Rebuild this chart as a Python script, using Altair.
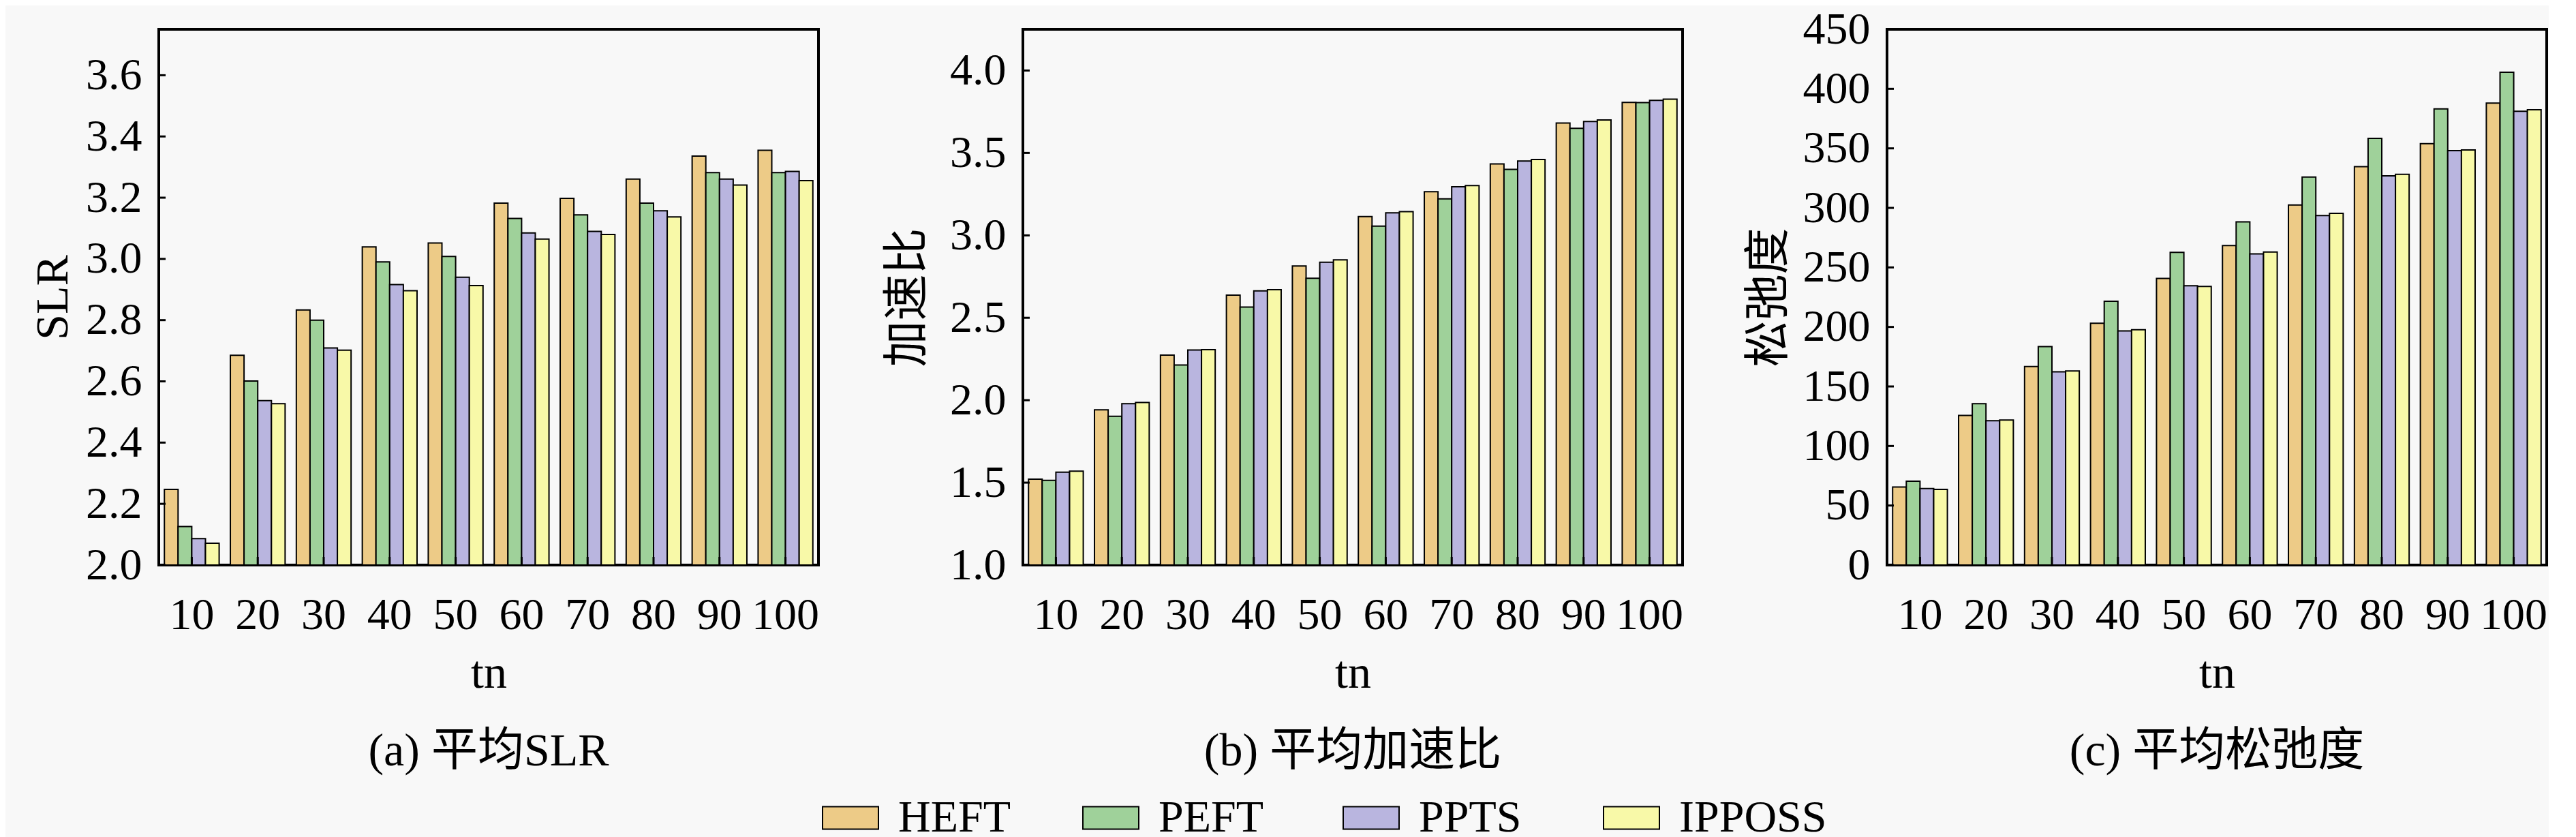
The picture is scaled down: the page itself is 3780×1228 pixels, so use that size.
import altair as alt
import pandas as pd

tn = ["10", "20", "30", "40", "50", "60", "70", "80", "90", "100"]
algorithms = ["HEFT", "PEFT", "PPTS", "IPPOSS"]
colors = ["#EDCB87", "#9FD19A", "#B9B5DF", "#F8F9A8"]

slr_heft = [2.247, 2.685, 2.833, 3.039, 3.052, 3.182, 3.198, 3.261, 3.336, 3.355]
slr_peft = [2.126, 2.601, 2.800, 2.990, 3.008, 3.132, 3.144, 3.182, 3.282, 3.282]
slr_ppts = [2.086, 2.537, 2.709, 2.916, 2.940, 3.085, 3.090, 3.157, 3.261, 3.286]
slr_ipposs = [2.071, 2.527, 2.702, 2.896, 2.913, 3.065, 3.080, 3.137, 3.241, 3.256]

sp_heft = [1.521, 1.942, 2.274, 2.637, 2.814, 3.114, 3.265, 3.433, 3.681, 3.807]
sp_peft = [1.514, 1.902, 2.214, 2.565, 2.740, 3.056, 3.221, 3.400, 3.649, 3.805]
sp_ppts = [1.563, 1.979, 2.305, 2.663, 2.837, 3.137, 3.295, 3.451, 3.691, 3.819]
sp_ipposs = [1.570, 1.986, 2.307, 2.670, 2.851, 3.144, 3.302, 3.460, 3.700, 3.826]

sl_heft = [65.6, 125.7, 166.8, 203.1, 240.7, 268.4, 302.5, 334.6, 353.9, 388.0]
sl_peft = [70.4, 135.6, 183.5, 221.5, 262.6, 288.3, 325.9, 358.4, 383.1, 414.0]
sl_ppts = [64.3, 121.2, 162.3, 196.7, 234.6, 261.3, 293.5, 326.9, 348.1, 381.2]
sl_ipposs = [63.6, 121.8, 163.0, 197.7, 234.0, 262.9, 295.4, 328.2, 348.7, 382.5]

slr_ticks = [2.0, 2.2, 2.4, 2.6, 2.8, 3.0, 3.2, 3.4, 3.6]
sp_ticks = [1.0, 1.5, 2.0, 2.5, 3.0, 3.5, 4.0]
sl_ticks = [0, 50, 100, 150, 200, 250, 300, 350, 400, 450]

W, H = 968, 786
FONT = "Liberation Serif, Noto Sans CJK SC"


def panel(series, domain, ticks, fmt, ytitle, title_x, caption):
    rows = []
    for alg, vals in zip(algorithms, series):
        for t, v in zip(tn, vals):
            rows.append({"tn": t, "alg": alg, "v": v})
    df = pd.DataFrame(rows)
    xscale = alt.Scale(paddingInner=0.17, paddingOuter=0.085)
    yscale = alt.Scale(domain=domain, zero=False, nice=False)
    xaxis = alt.Axis(title="tn", labelAngle=0, labelFont=FONT, labelFontSize=66,
                     labelBaseline="middle", labelPadding=73, ticks=False, tickSize=0,
                     domain=False, grid=False, labelOverlap=False, labelColor="black",
                     titleFont=FONT, titleFontSize=68, titleFontWeight="normal",
                     titleColor="black", titleY=159, titleBaseline="middle")
    yaxis = alt.Axis(title=ytitle, values=ticks, format=fmt, labelFont=FONT,
                     labelFontSize=66, labelPadding=25, ticks=False, tickSize=0,
                     domain=False, grid=False, labelColor="black", labelOverlap=False,
                     titleFont=FONT, titleFontSize=68, titleFontWeight="normal",
                     titleColor="black", titleX=title_x, titleY=H / 2,
                     titleBaseline="middle", titleAngle=270)
    bars = alt.Chart(df).mark_bar(stroke="black", strokeWidth=2).encode(
        x=alt.X("tn:O", sort=tn, scale=xscale, axis=xaxis),
        xOffset=alt.XOffset("alg:N", sort=algorithms,
                            scale=alt.Scale(paddingInner=0, paddingOuter=0)),
        y=alt.Y("v:Q", scale=yscale, axis=yaxis),
        y2=alt.datum(domain[0]),
        color=alt.Color("alg:N", sort=algorithms,
                        scale=alt.Scale(domain=algorithms, range=colors),
                        legend=alt.Legend(title=None)),
    )
    ytk = alt.Chart(pd.DataFrame({"v": ticks})).mark_rule(color="black", strokeWidth=3).encode(
        y=alt.Y("v:Q", scale=yscale, axis=yaxis),
        x=alt.value(0), x2=alt.value(10),
    )
    xtk = alt.Chart(pd.DataFrame({"tn": tn})).mark_rule(color="black", strokeWidth=3).encode(
        x=alt.X("tn:O", sort=tn, scale=xscale, axis=xaxis),
        y=alt.value(H), y2=alt.value(H - 12),
    )
    cap = alt.Chart(pd.DataFrame({"c": [caption]})).mark_text(
        font=FONT, fontSize=68, baseline="middle", align="center", color="black"
    ).encode(text="c:N", x=alt.value(W / 2), y=alt.value(1060))
    return alt.layer(bars, ytk, xtk, cap).properties(width=W, height=H)


pa = panel([slr_heft, slr_peft, slr_ppts, slr_ipposs], [2.0, 3.75], slr_ticks, ".1f",
           "SLR", -155, "(a) 平均SLR")
pb = panel([sp_heft, sp_peft, sp_ppts, sp_ipposs], [1.0, 4.25], sp_ticks, ".1f",
           "加速比", -169, "(b) 平均加速比")
pc = panel([sl_heft, sl_peft, sl_ppts, sl_ipposs], [0, 450], sl_ticks, "d",
           "松弛度", -173, "(c) 平均松弛度")

chart = alt.hconcat(pa, pb, pc, spacing=300, bounds="flush").properties(
    padding={"left": 34, "top": 0, "right": 0, "bottom": 0}
).configure(background="#f8f8f8").configure_view(
    stroke="black", strokeWidth=4
).configure_legend(
    orient="none", legendX=982, legendY=1124, direction="horizontal", columns=4,
    gridAlign="all", columnPadding=50, padding=0,
    symbolType="M-1.64,-0.66H1.64V0.66H-1.64Z", symbolSize=2500, symbolStrokeColor="black",
    symbolStrokeWidth=2, symbolOpacity=1,
    labelFont=FONT, labelFontSize=66, labelOffset=37, labelColor="black", labelLimit=400,
)

chart.save("out.html", embed_options={"renderer": "svg", "actions": False})
